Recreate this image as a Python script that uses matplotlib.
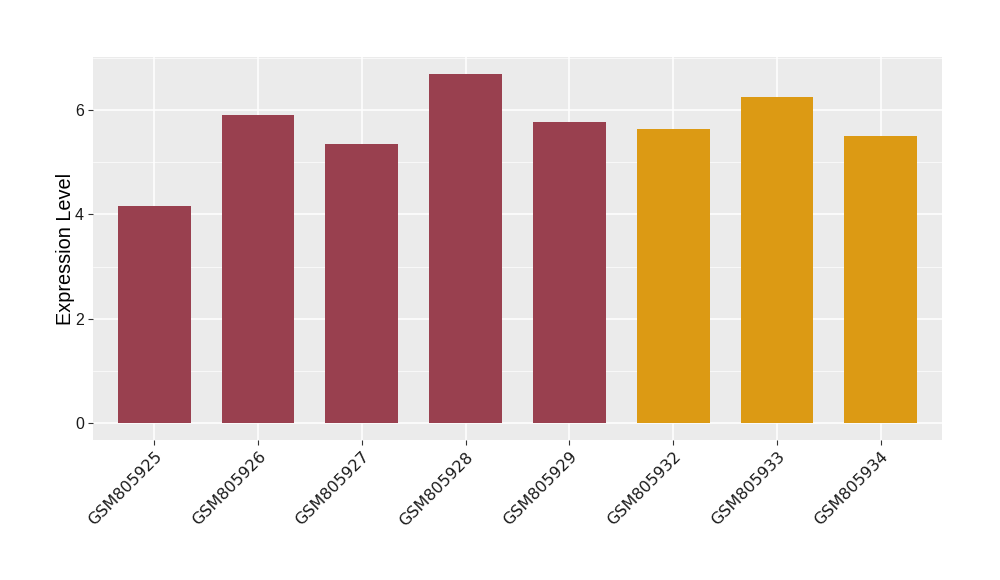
import matplotlib
matplotlib.use("Agg")
import matplotlib.pyplot as plt

samples = ["GSM805925", "GSM805926", "GSM805927", "GSM805928",
           "GSM805929", "GSM805932", "GSM805933", "GSM805934"]
expression = [4.16, 5.91, 5.35, 6.69, 5.77, 5.64, 6.25, 5.50]
groups = ["a", "a", "a", "a", "a", "b", "b", "b"]
group_colors = {"a": "#99404F", "b": "#DC9A14"}

fig = plt.figure(figsize=(10, 5.8), dpi=100)
ax = fig.add_axes([0.093, 0.241, 0.849, 0.661])
ax.set_facecolor("#EBEBEB")

x = list(range(len(samples)))
ax.bar(x, expression, width=0.7, color=[group_colors[g] for g in groups], zorder=3)

# ggplot-like grid
ax.set_yticks([0, 2, 4, 6])
ax.set_yticks([1, 3, 5, 7], minor=True)
ax.grid(which="major", color="white", linewidth=1.1, zorder=1)
ax.grid(which="minor", axis="y", color="white", linewidth=0.5, zorder=1)
for s in ax.spines.values():
    s.set_visible(False)

ax.set_xlim(-0.59, 7.59)
ax.set_ylim(-0.33, 7.02)
ax.set_xticks(x)
ax.set_xticklabels(samples, rotation=45, ha="right", rotation_mode="anchor",
                   fontsize=11.5, color="#1A1A1A", family="DejaVu Sans")
ax.tick_params(axis="both", which="major", length=3.5, color="#333333", pad=3)
ax.tick_params(axis="y", which="minor", length=0)
for lab in ax.get_yticklabels():
    lab.set_family("Liberation Sans")
    lab.set_fontsize(11.5)
    lab.set_color("#1A1A1A")
ax.set_ylabel("Expression Level", fontsize=14.3, family="Liberation Sans", labelpad=0)

fig.savefig("out.png", dpi=100, facecolor="white")
